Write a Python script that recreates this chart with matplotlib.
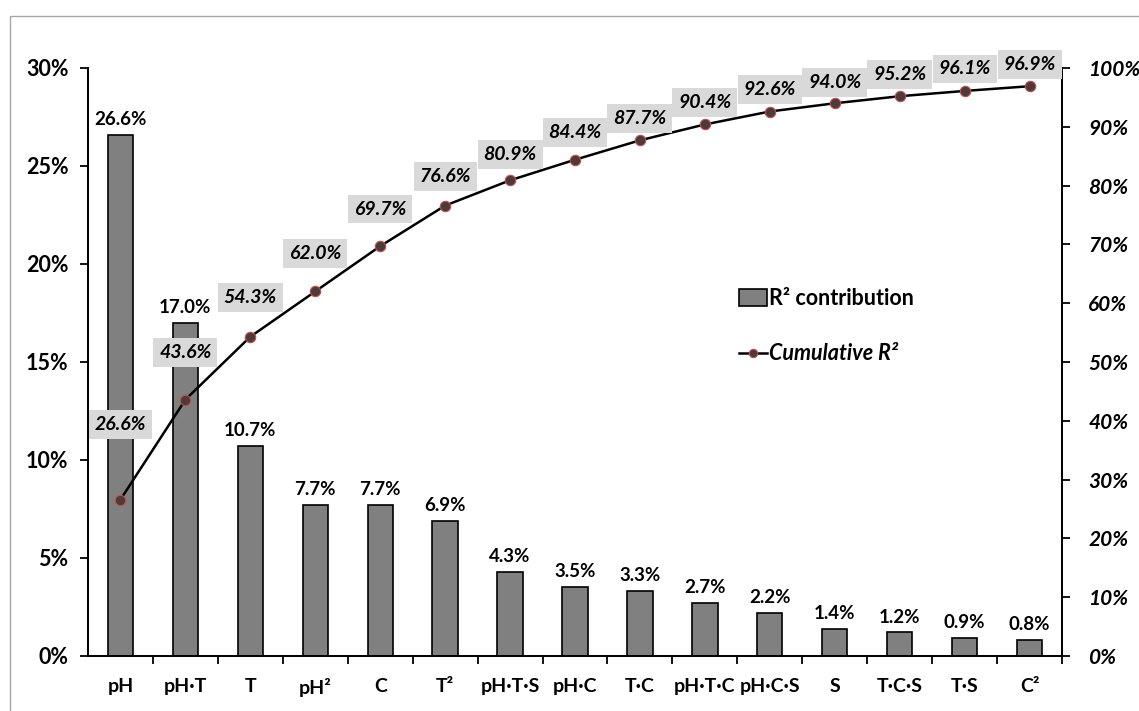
import matplotlib
matplotlib.use('Agg')
import matplotlib.pyplot as plt
from matplotlib.patches import Rectangle, Patch
from matplotlib.lines import Line2D
from matplotlib.ticker import FuncFormatter, FixedLocator

# Data
terms = ['pH', 'pH·T', 'T', 'pH²', 'C', 'T²', 'pH·T·S', 'pH·C', 'T·C',
         'pH·T·C', 'pH·C·S', 'S', 'T·C·S', 'T·S', 'C²']
contribution = [26.6, 17.0, 10.7, 7.7, 7.7, 6.9, 4.3, 3.5, 3.3, 2.7, 2.2, 1.4, 1.2, 0.9, 0.8]
cumulative = [26.6, 43.6, 54.3, 62.0, 69.7, 76.6, 80.9, 84.4, 87.7, 90.4, 92.6, 94.0, 95.2, 96.1, 96.9]

# vertical offset (pixels) of each cumulative label above its point
cum_label_dy = [75, 47, 39, 38, 37, 29, 26, 27, 22, 22, 22, 21, 22, 22, 22]

plt.rcParams['font.family'] = ['Lato', 'DejaVu Sans']
plt.rcParams['font.weight'] = 'bold'

W, H = 1139, 711
fig = plt.figure(figsize=(W / 100, H / 100), dpi=100)

# outer gray frame
fig.patches.append(Rectangle((10 / W, -0.1), 1.2, 1 - 16 / H + 0.1, transform=fig.transFigure,
                             fill=False, edgecolor='#a6a6a6', linewidth=1))

ax = fig.add_axes([88 / W, 1 - 656 / H, 974 / W, 588 / H])
ax2 = ax.twinx()

x = list(range(len(terms)))
ax.bar(x, contribution, width=0.39, color='#808080', edgecolor='black', linewidth=1.2, zorder=2)
for xi, v in zip(x, contribution):
    ax.annotate(f'{v:.1f}%', (xi, v), xytext=(0, 5), textcoords='offset points',
                ha='center', va='bottom', fontsize=13.5, fontweight='bold')

ax.set_xlim(-0.5, len(terms) - 0.5)
ax.set_ylim(0, 30)
ax.set_yticks([0, 5, 10, 15, 20, 25, 30])
ax.yaxis.set_major_formatter(FuncFormatter(lambda v, p: f'{v:.0f}%'))
ax.tick_params(axis='y', direction='out', length=6, width=1.3, pad=8, labelsize=15.5)
ax.set_xticks(x)
ax.set_xticklabels(terms)
ax.tick_params(axis='x', which='major', length=0, pad=16, labelsize=14)
ax.xaxis.set_minor_locator(FixedLocator([i + 0.5 for i in range(len(terms))]))
ax.tick_params(axis='x', which='minor', direction='out', length=6, width=1.3)

ax2.plot(x, cumulative, color='black', linewidth=1.8, marker='o', markersize=7.5,
         markerfacecolor='#4d3b3b', markeredgecolor='#c0504d', markeredgewidth=0.8, zorder=3)
ax2.set_ylim(0, 100)
ax2.set_yticks(range(0, 101, 10))
ax2.yaxis.set_major_formatter(FuncFormatter(lambda v, p: f'{v:.0f}%'))
ax2.tick_params(axis='y', direction='out', length=6, width=1.3, pad=13, labelsize=15)
for lab in ax2.get_yticklabels():
    lab.set_fontstyle('italic')
for xi, v, dy in zip(x, cumulative, cum_label_dy):
    ax2.annotate(f'{v:.1f}%', (xi, v), xytext=(0, dy * 0.72), textcoords='offset points',
                 ha='center', va='center', fontsize=14, fontweight='bold', fontstyle='italic',
                 bbox=dict(boxstyle='square,pad=0.3', facecolor='#d9d9d9', edgecolor='none'),
                 zorder=4)

for a in (ax, ax2):
    a.spines['top'].set_visible(False)
    for s in ('left', 'right', 'bottom'):
        a.spines[s].set_linewidth(1.3)
ax.set_zorder(1)
ax2.set_zorder(2)
ax2.patch.set_visible(False)

handles = [Patch(facecolor='#808080', edgecolor='black', linewidth=1.2),
           Line2D([], [], color='black', linewidth=1.8, marker='o', markersize=6,
                  markerfacecolor='#4d3b3b', markeredgecolor='#c0504d', markeredgewidth=0.8)]
leg = ax2.legend(handles, ['R² contribution', 'Cumulative R²'], loc='upper left',
                 bbox_to_anchor=(739 / W, 1 - 288 / H), bbox_transform=fig.transFigure,
                 frameon=False, fontsize=15.5, handlelength=1.3, handleheight=0.8,
                 handletextpad=0.1, labelspacing=1.6, borderpad=0, borderaxespad=0)
leg.get_texts()[1].set_fontstyle('italic')

fig.savefig('out.png', dpi=100)
